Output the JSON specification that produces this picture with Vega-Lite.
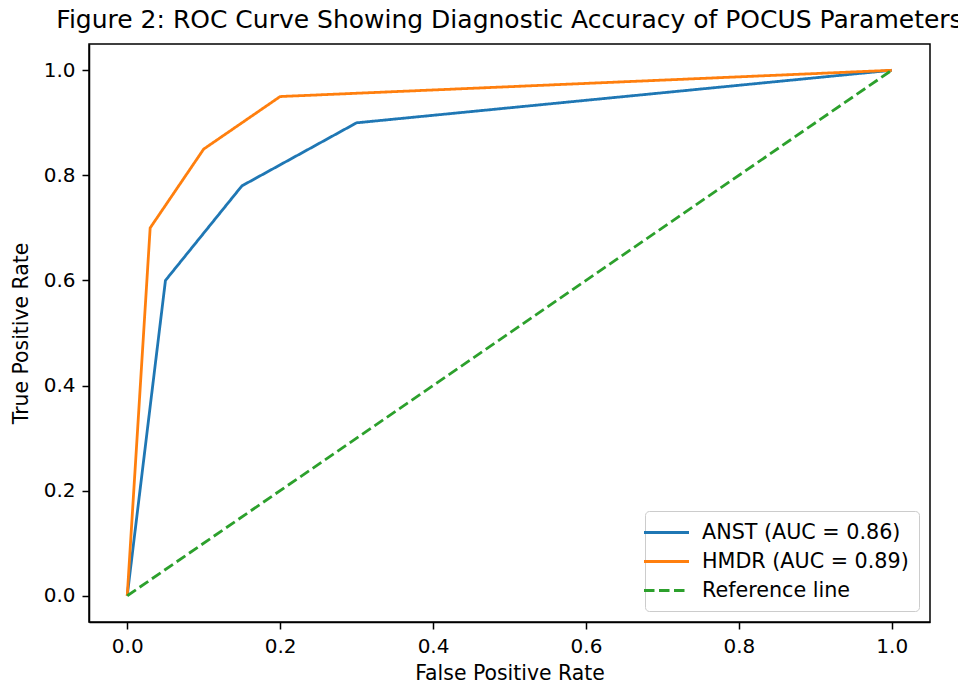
{
  "$schema": "https://vega.github.io/schema/vega-lite/v6.json",
  "width": 841,
  "height": 578,
  "autosize": {"type": "none"},
  "padding": {"left": 89, "top": 44, "right": 28, "bottom": 64},
  "background": "white",
  "title": {
    "text": "Figure 2: ROC Curve Showing Diagnostic Accuracy of POCUS Parameters",
    "fontSize": 25,
    "font": "DejaVu Sans",
    "fontWeight": "normal",
    "color": "#000",
    "anchor": "middle",
    "offset": 11
  },
  "data": {
    "values": [
      {"series": "ANST (AUC = 0.86)", "fpr": 0.0, "tpr": 0.0},
      {"series": "ANST (AUC = 0.86)", "fpr": 0.05, "tpr": 0.6},
      {"series": "ANST (AUC = 0.86)", "fpr": 0.15, "tpr": 0.78},
      {"series": "ANST (AUC = 0.86)", "fpr": 0.3, "tpr": 0.9},
      {"series": "ANST (AUC = 0.86)", "fpr": 1.0, "tpr": 1.0},
      {"series": "HMDR (AUC = 0.89)", "fpr": 0.0, "tpr": 0.0},
      {"series": "HMDR (AUC = 0.89)", "fpr": 0.03, "tpr": 0.7},
      {"series": "HMDR (AUC = 0.89)", "fpr": 0.1, "tpr": 0.85},
      {"series": "HMDR (AUC = 0.89)", "fpr": 0.2, "tpr": 0.95},
      {"series": "HMDR (AUC = 0.89)", "fpr": 1.0, "tpr": 1.0},
      {"series": "Reference line", "fpr": 0.0, "tpr": 0.0},
      {"series": "Reference line", "fpr": 1.0, "tpr": 1.0}
    ]
  },
  "mark": {"type": "line", "strokeWidth": 2.8, "clip": true},
  "encoding": {
    "x": {
      "field": "fpr",
      "type": "quantitative",
      "scale": {"domain": [-0.05, 1.05], "nice": false, "zero": false},
      "axis": {"values": [0, 0.2, 0.4, 0.6, 0.8, 1.0], "format": ".1f", "title": "False Positive Rate", "titlePadding": 7}
    },
    "y": {
      "field": "tpr",
      "type": "quantitative",
      "scale": {"domain": [-0.05, 1.05], "nice": false, "zero": false},
      "axis": {"values": [0, 0.2, 0.4, 0.6, 0.8, 1.0], "format": ".1f", "title": "True Positive Rate", "titlePadding": 12}
    },
    "color": {
      "field": "series",
      "type": "nominal",
      "scale": {
        "domain": ["ANST (AUC = 0.86)", "HMDR (AUC = 0.89)", "Reference line"],
        "range": ["#1f77b4", "#ff7f0e", "#2ca02c"]
      },
      "legend": {"title": null}
    },
    "strokeDash": {
      "field": "series",
      "type": "nominal",
      "scale": {
        "domain": ["ANST (AUC = 0.86)", "HMDR (AUC = 0.89)", "Reference line"],
        "range": [[1, 0], [1, 0], [10.5, 4.5]]
      },
      "legend": {"title": null}
    }
  },
  "config": {
    "view": {"stroke": "#000", "strokeWidth": 1.5},
    "axis": {
      "domainColor": "#000",
      "domainWidth": 1.5,
      "tickColor": "#000",
      "tickWidth": 1.5,
      "tickSize": 7,
      "labelFontSize": 20,
      "labelFont": "DejaVu Sans",
      "labelColor": "#000",
      "labelPadding": 7,
      "titleFontSize": 20.4,
      "titleFont": "DejaVu Sans",
      "titleFontWeight": "normal",
      "titleColor": "#000",
      "grid": false
    },
    "legend": {
      "orient": "bottom-right",
      "offset": 11,
      "padding": 10,
      "strokeColor": "#cccccc",
      "fillColor": "rgba(255,255,255,0.8)",
      "cornerRadius": 4,
      "symbolType": "M-2.25,0H2.25",
      "symbolSize": 400,
      "symbolStrokeWidth": 2.8,
      "symbolFillColor": "transparent",
      "labelFontSize": 20.7,
      "labelFont": "DejaVu Sans",
      "labelColor": "#000",
      "labelOffset": 24,
      "rowPadding": 7,
      "labelLimit": 400
    }
  }
}
